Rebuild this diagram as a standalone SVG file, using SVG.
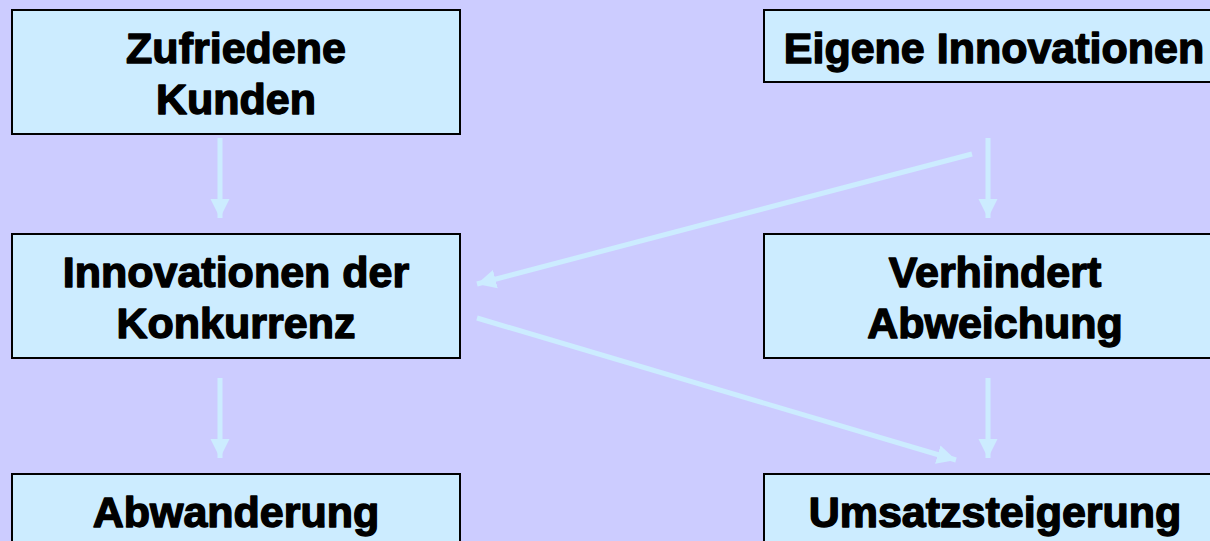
<svg xmlns="http://www.w3.org/2000/svg" width="1210" height="541" viewBox="0 0 1210 541">
<style>
.box{fill:#CCECFF;stroke:#000;stroke-width:2}
.t{font-family:"Liberation Sans",Arial,sans-serif;font-weight:bold;font-size:43px;fill:#000;stroke:#000;stroke-width:1.4;stroke-linejoin:round;text-anchor:middle}
.c{stroke:#CCECFF;stroke-width:5;fill:none}
</style>
<defs>
<marker id="ah" viewBox="0 0 10 10" refX="10" refY="5" markerUnits="userSpaceOnUse" markerWidth="19" markerHeight="20" orient="auto">
<path d="M0,0 L10,5 L0,10 Z" fill="#CCECFF"/>
</marker>
</defs>
<rect width="1210" height="541" fill="#CCCCFF"/>
<g id="connectors">
<line class="c" x1="220" y1="138" x2="220" y2="218" marker-end="url(#ah)"/>
<line class="c" x1="220" y1="378" x2="220" y2="458" marker-end="url(#ah)"/>
<line class="c" x1="988" y1="138" x2="988" y2="218" marker-end="url(#ah)"/>
<line class="c" x1="988" y1="378" x2="988" y2="458" marker-end="url(#ah)"/>
<line class="c" x1="972" y1="154" x2="477" y2="284" marker-end="url(#ah)"/>
<line class="c" x1="477" y1="318" x2="956" y2="460" marker-end="url(#ah)"/>
</g>
<g id="n1"><rect class="box" x="12" y="10" width="448" height="124"/><text class="t" x="236" y="63">Zufriedene</text><text class="t" x="236" y="114">Kunden</text></g>
<g id="n2"><rect class="box" x="764" y="10" width="470" height="72"/><text class="t" x="994" y="63">Eigene Innovationen</text></g>
<g id="n3"><rect class="box" x="12" y="234" width="448" height="124"/><text class="t" x="236" y="287">Innovationen der</text><text class="t" x="236" y="338">Konkurrenz</text></g>
<g id="n4"><rect class="box" x="764" y="234" width="470" height="124"/><text class="t" x="995" y="287">Verhindert</text><text class="t" x="995" y="338">Abweichung</text></g>
<g id="n5"><rect class="box" x="12" y="474" width="448" height="90"/><text class="t" x="236" y="527">Abwanderung</text></g>
<g id="n6"><rect class="box" x="764" y="474" width="470" height="90"/><text class="t" x="995" y="527">Umsatzsteigerung</text></g>
</svg>
